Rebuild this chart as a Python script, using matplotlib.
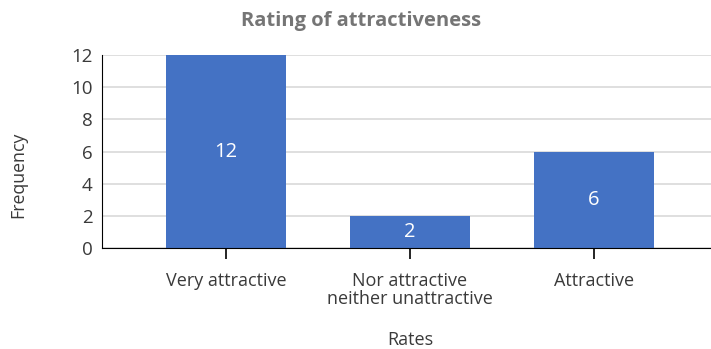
import matplotlib
matplotlib.use("Agg")
import matplotlib.pyplot as plt

# frequency of each rating
rates = ["Very attractive", "Nor attractive\nneither unattractive", "Attractive"]
freq = [12, 2, 6]
yticks = [0, 2, 4, 6, 8, 10, 12]

plt.rcParams['font.family'] = ['Open Sans', 'DejaVu Sans']
txt = "#3a3a3a"

fig = plt.figure(figsize=(7.11, 3.49), dpi=100)
ax = fig.add_axes([0.1435, 0.289, 0.8565, 0.553])

xs = list(range(len(rates)))
bars = ax.bar(xs, freq, width=0.65, color="#4472C4", zorder=2)
for b, v in zip(bars, freq):
    ax.text(b.get_x() + b.get_width() / 2, v / 2, str(v), ha="center", va="center",
            color="white", fontsize=14.5, zorder=3)

ax.set_xlim(-0.674, 2.636)
ax.set_ylim(0, 12)
ax.set_yticks(yticks)
ax.set_xticks(xs)
ax.set_xticklabels(rates, fontsize=13, color=txt, linespacing=1.05)
ax.tick_params(axis="x", direction="inout", length=16, width=1.2, color="black", pad=9)
ax.tick_params(axis="y", length=0, labelsize=13.5, colors=txt, pad=7)
for t in ax.get_xticklines():
    t.set_zorder(4)

ax.grid(axis="y", color="#d9d9d9", linewidth=1.2, zorder=0)
ax.spines["top"].set_visible(False)
ax.spines["right"].set_visible(False)
ax.spines["left"].set_color("black")
ax.spines["bottom"].set_color("black")
ax.spines["bottom"].set_zorder(3)

fig.text(0.508, 0.94, "Rating of attractiveness", ha="center", va="center",
         fontsize=14.5, fontweight="bold", color="#757575")
fig.text(0.025, 0.5, "Frequency", rotation=90, ha="center", va="center",
         fontsize=12.8, color=txt)
fig.text(0.577, 0.026, "Rates", ha="center", va="center", fontsize=13, color=txt)

fig.savefig("out.png", dpi=100)
